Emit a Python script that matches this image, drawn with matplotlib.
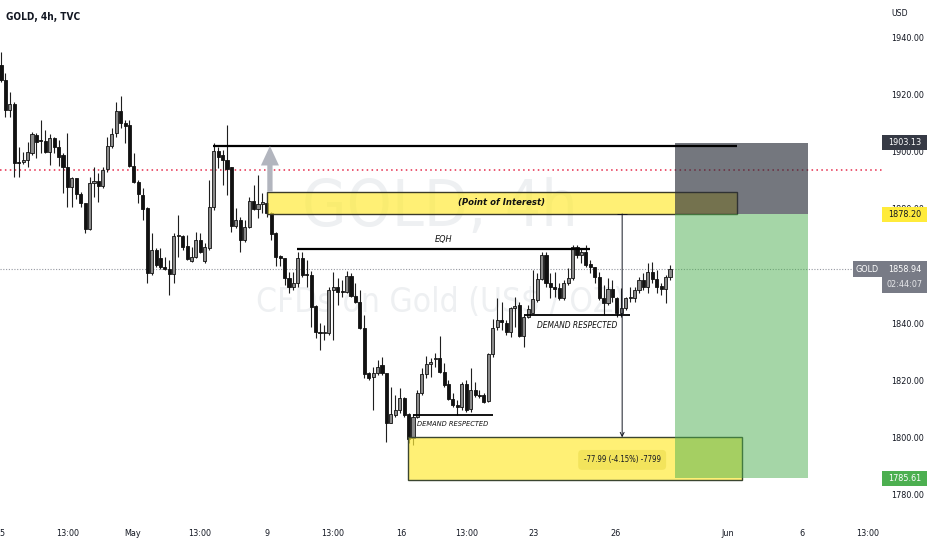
import matplotlib
matplotlib.use('Agg')
import matplotlib.pyplot as plt
from matplotlib.patches import Rectangle, FancyArrowPatch
from matplotlib.transforms import blended_transform_factory
import numpy as np

plt.rcParams['font.family'] = ['DejaVu Sans']
plt.rcParams['font.stretch'] = 'condensed'

# ---------------- data (GOLD, 4h) ----------------
opens = [1930.2, 1925.0, 1914.5, 1916.6, 1896.3, 1896.5, 1897.0, 1899.5, 1905.8, 1904.0,
         1903.6, 1899.8, 1904.7, 1901.5, 1898.7, 1894.6, 1887.6, 1890.7, 1885.1, 1882.0,
         1872.9, 1889.0, 1889.6, 1887.9, 1893.8, 1901.9, 1906.4, 1914.1, 1910.0, 1909.2,
         1894.9, 1889.3, 1884.7, 1880.2, 1857.4, 1865.5, 1862.7, 1859.5, 1858.8, 1857.1,
         1870.4, 1870.4, 1866.9, 1861.6, 1863.0, 1869.0, 1861.6, 1866.2, 1880.5, 1900.1,
         1899.0, 1897.0, 1894.5, 1873.9, 1876.0, 1869.0, 1873.5, 1882.6, 1879.8, 1881.6,
         1882.0, 1878.5, 1871.5, 1863.4, 1862.7, 1855.7, 1852.5, 1854.0, 1862.7, 1857.1,
         1856.8, 1845.9, 1836.8, 1836.5, 1836.5, 1851.5, 1852.5, 1851.1, 1850.8, 1856.4,
         1849.4, 1847.3, 1838.2, 1822.4, 1821.0, 1822.4, 1825.2, 1822.4, 1805.0, 1807.7,
         1809.5, 1813.7, 1808.1, 1799.7, 1807.0, 1815.4, 1822.1, 1825.6, 1827.4, 1827.7,
         1822.8, 1818.6, 1813.3, 1811.2, 1810.5, 1818.6, 1809.8, 1816.5, 1814.8, 1814.8,
         1812.6, 1829.1, 1838.5, 1841.0, 1839.9, 1836.8, 1845.2, 1846.2, 1835.4, 1842.0,
         1843.5, 1848.0, 1855.4, 1863.7, 1854.0, 1852.5, 1852.2, 1848.7, 1854.0, 1855.7,
         1866.5, 1863.7, 1864.8, 1860.6, 1859.5, 1856.0, 1848.7, 1846.9, 1851.8, 1848.7,
         1843.5, 1845.2, 1848.7, 1848.7, 1851.5, 1855.0, 1852.5, 1857.8, 1855.4, 1852.9,
         1851.8, 1856.0]
highs = [1935.0, 1927.5, 1920.8, 1917.3, 1901.5, 1899.8, 1903.3, 1906.8, 1906.5, 1911.0,
         1907.5, 1906.1, 1905.0, 1904.0, 1899.5, 1906.5, 1891.0, 1890.7, 1885.8, 1882.0,
         1891.0, 1894.6, 1892.5, 1894.6, 1905.0, 1908.2, 1917.3, 1919.4, 1911.0, 1911.0,
         1899.5, 1890.0, 1887.2, 1880.5, 1871.5, 1866.2, 1866.2, 1863.0, 1862.0, 1871.5,
         1877.8, 1870.7, 1870.7, 1866.5, 1871.8, 1871.5, 1868.0, 1890.0, 1903.0, 1901.5,
         1900.5, 1909.2, 1894.5, 1880.2, 1877.0, 1876.0, 1884.0, 1888.3, 1891.8, 1885.5,
         1883.0, 1879.0, 1872.0, 1864.0, 1862.7, 1857.8, 1857.8, 1864.8, 1864.8, 1862.0,
         1858.2, 1846.2, 1839.9, 1839.2, 1852.5, 1857.8, 1855.7, 1855.0, 1858.2, 1857.5,
         1854.0, 1851.5, 1842.8, 1822.8, 1824.5, 1827.0, 1828.0, 1822.4, 1817.5, 1814.8,
         1817.2, 1814.0, 1808.4, 1808.0, 1816.5, 1824.2, 1828.4, 1827.7, 1829.4, 1835.4,
         1825.9, 1820.0, 1815.4, 1813.0, 1819.3, 1820.0, 1824.2, 1819.3, 1816.5, 1815.4,
         1829.4, 1841.3, 1848.7, 1847.3, 1841.0, 1845.5, 1849.1, 1847.3, 1842.8, 1846.2,
         1858.5, 1857.5, 1864.8, 1864.8, 1857.5, 1857.8, 1854.0, 1855.0, 1859.2, 1867.2,
         1867.2, 1866.2, 1867.2, 1862.0, 1859.5, 1857.8, 1853.3, 1855.7, 1855.0, 1849.0,
         1852.2, 1849.0, 1852.5, 1852.5, 1856.0, 1857.5, 1861.0, 1861.3, 1858.5, 1854.0,
         1856.8, 1860.2]
lows = [1924.5, 1912.0, 1912.0, 1891.0, 1891.0, 1895.6, 1894.6, 1898.8, 1897.7, 1899.5,
        1899.5, 1895.2, 1899.5, 1894.9, 1885.5, 1880.5, 1880.5, 1883.4, 1880.5, 1871.5,
        1872.5, 1884.0, 1882.3, 1887.2, 1892.8, 1901.2, 1905.0, 1908.2, 1903.0, 1894.6,
        1889.0, 1882.0, 1876.0, 1854.0, 1856.8, 1859.5, 1858.8, 1858.5, 1849.8, 1854.0,
        1863.0, 1865.5, 1862.0, 1861.3, 1862.7, 1864.5, 1861.0, 1865.5, 1879.5, 1894.2,
        1888.3, 1884.7, 1871.8, 1873.2, 1864.8, 1868.3, 1873.2, 1879.5, 1876.7, 1878.5,
        1877.0, 1869.0, 1860.0, 1860.0, 1853.3, 1850.4, 1851.5, 1852.5, 1856.0, 1852.5,
        1838.5, 1834.7, 1830.5, 1834.0, 1835.7, 1834.0, 1846.2, 1849.0, 1850.4, 1849.0,
        1847.0, 1838.0, 1820.7, 1820.0, 1809.5, 1821.7, 1821.7, 1798.3, 1804.9, 1807.0,
        1808.4, 1807.0, 1798.0, 1797.3, 1806.7, 1814.8, 1820.7, 1821.0, 1824.5, 1822.4,
        1817.5, 1813.0, 1810.5, 1807.7, 1809.5, 1808.8, 1808.8, 1814.0, 1813.7, 1812.0,
        1812.3, 1828.0, 1837.5, 1837.5, 1835.7, 1835.0, 1838.5, 1835.0, 1831.5, 1841.7,
        1843.5, 1847.3, 1855.0, 1852.5, 1848.7, 1849.0, 1848.0, 1848.0, 1853.3, 1855.0,
        1862.7, 1861.0, 1859.5, 1857.5, 1854.0, 1848.0, 1842.8, 1846.2, 1847.3, 1842.0,
        1842.0, 1844.5, 1847.3, 1847.3, 1850.4, 1851.5, 1850.4, 1854.0, 1850.4, 1849.8,
        1847.0, 1855.0]
closes = [1925.0, 1914.5, 1916.6, 1896.0, 1896.0, 1897.0, 1899.8, 1906.1, 1903.3, 1903.6,
          1899.8, 1904.7, 1901.5, 1898.0, 1894.6, 1887.6, 1890.7, 1885.1, 1882.0, 1872.9,
          1889.0, 1889.6, 1887.9, 1893.5, 1901.9, 1906.1, 1914.1, 1910.0, 1908.9, 1894.9,
          1889.3, 1885.1, 1879.8, 1857.4, 1865.5, 1860.2, 1859.5, 1858.8, 1857.1, 1870.4,
          1870.7, 1866.5, 1862.3, 1863.0, 1869.0, 1864.8, 1866.5, 1880.5, 1900.1, 1898.0,
          1897.0, 1893.8, 1873.9, 1876.0, 1869.0, 1873.5, 1882.6, 1879.8, 1881.6, 1882.3,
          1878.5, 1871.1, 1863.0, 1862.7, 1855.7, 1852.5, 1854.0, 1862.7, 1856.8, 1856.8,
          1845.6, 1836.8, 1836.5, 1836.8, 1851.5, 1852.5, 1850.8, 1850.8, 1856.4, 1849.4,
          1847.3, 1838.2, 1822.1, 1820.7, 1822.4, 1824.5, 1822.4, 1805.0, 1808.1, 1809.5,
          1813.7, 1807.7, 1799.4, 1807.0, 1815.4, 1822.1, 1825.6, 1826.3, 1827.7, 1822.8,
          1818.2, 1813.3, 1811.2, 1810.5, 1818.6, 1809.5, 1816.5, 1814.8, 1814.6, 1812.3,
          1829.1, 1838.2, 1841.0, 1840.3, 1836.8, 1845.2, 1845.9, 1835.4, 1842.0, 1844.9,
          1848.3, 1855.4, 1863.7, 1854.0, 1852.5, 1851.8, 1848.7, 1854.0, 1855.7, 1866.5,
          1863.7, 1864.8, 1860.2, 1859.5, 1856.0, 1848.7, 1846.9, 1851.8, 1849.0, 1843.5,
          1845.2, 1848.7, 1849.0, 1851.5, 1855.0, 1852.5, 1857.8, 1855.4, 1852.5, 1851.8,
          1856.0, 1858.94]

x_tick_pos = [0.3, 15.1, 29.8, 44.9, 60.0, 74.9, 90.3, 105.2, 120.1, 138.6, 164.1, 180.8, 195.7]
x_tick_labels = ['5', '13:00', 'May', '13:00', '9', '13:00', '16', '13:00', '23', '26', 'Jun', '6', '13:00']
price_ticks = [1780, 1800, 1820, 1840, 1880, 1900, 1920, 1940]

last_price = 1858.94
countdown = '02:44:07'
stop_price = 1903.13
entry_price = 1878.20
target_price = 1785.61
red_level = 1893.6
top_line_price = 1902.0
poi_top = 1886.0
eqh_price = 1865.8
demand_hi_price = 1843.0
demand_lo_price = 1807.8
zone_top = 1800.0
zone_bottom = 1785.0
measure_text = '-77.99 (-4.15%) -7799'

# ---------------- figure ----------------
W, H = 932, 550
fig = plt.figure(figsize=(W / 100, H / 100), dpi=100)
fig.patch.set_facecolor('white')
pane_right = 884
pane_bottom = 516
ax = fig.add_axes([0, 1 - pane_bottom / H, pane_right / W, pane_bottom / H])
ax.set_facecolor('white')

ymin, ymax = 1772.46, 1953.13
ax.set_ylim(ymin, ymax)
ax.set_xlim(-0.226, 199.3)
ppu = pane_bottom / (ymax - ymin)   # pixels per price unit

for s in ax.spines.values():
    s.set_visible(False)

txt_col = '#131722'
ax.yaxis.tick_right()
ax.set_yticks(price_ticks)
ax.set_yticklabels([f'{p:.2f}' for p in price_ticks])
ax.tick_params(axis='y', length=0, pad=5, labelsize=6.5, labelcolor=txt_col)
ax.set_xticks(x_tick_pos)
ax.set_xticklabels(x_tick_labels)
ax.tick_params(axis='x', length=0, pad=9, labelsize=6.5, labelcolor=txt_col)

# watermark
ax.text(0.498, 0.597, 'GOLD, 4h', transform=ax.transAxes, ha='center', va='center',
        fontsize=46, color='#eef0f2', zorder=0.5)
ax.text(0.498, 0.413, 'CFDs on Gold (US$ / OZ)', transform=ax.transAxes, ha='center',
        va='center', fontsize=24, color='#eef0f2', zorder=0.5)

# horizontal dotted lines
ax.axhline(red_level, color='#e5294a', lw=1.1, ls=(0, (1, 2.2)), zorder=1)
ax.axhline(last_price, xmax=853 / pane_right, color='#9598a1', lw=0.8, ls=(0, (1, 1.5)), zorder=1)

# candles
o = np.array(opens); h = np.array(highs); l = np.array(lows); c = np.array(closes)
idx = np.arange(len(o))
up = c >= o
ax.vlines(idx, l, h, color='#1e1e1e', lw=0.8, zorder=2)
body_lo = np.minimum(o, c)
body_h = np.maximum(np.abs(c - o), 0.4)
ax.bar(idx[up], body_h[up], bottom=body_lo[up], width=0.7, color='#8a8a8a',
       edgecolor='#111111', linewidth=0.6, zorder=2.2)
ax.bar(idx[~up], body_h[~up], bottom=body_lo[~up], width=0.7, color='#111111',
       edgecolor='#111111', linewidth=0.6, zorder=2.2)

yellow = (1.0, 0.922, 0.231, 0.7)
# Point of interest box
ax.add_patch(Rectangle((60.0, entry_price), 106.1, poi_top - entry_price, facecolor=yellow,
                       edgecolor='#3b3b2a', lw=1.0, zorder=3))
ax.text(113.05, (poi_top + entry_price) / 2, '(Point of Interest)', ha='center', va='center',
        fontsize=6.8, fontweight='bold', fontstyle='italic', color='#111111', zorder=5)
# lower demand zone
ax.add_patch(Rectangle((91.9, zone_bottom), 75.4, zone_top - zone_bottom, facecolor=yellow,
                       edgecolor='#3b4630', lw=1.0, zorder=3))
# short position boxes
ax.add_patch(Rectangle((152.1, entry_price), 30.1, stop_price - entry_price,
                       facecolor=(0.165, 0.18, 0.224, 0.65), edgecolor='none', zorder=4))
ax.add_patch(Rectangle((152.1, target_price), 30.1, entry_price - target_price,
                       facecolor=(0.298, 0.686, 0.314, 0.5), edgecolor='none', zorder=4))

# lines
ax.hlines(top_line_price, 47.9, 166.1, color='black', lw=1.6, zorder=5)
ax.hlines(eqh_price, 66.8, 133.0, color='black', lw=1.6, zorder=5)
ax.text(99.9, eqh_price + 3.3, 'EQH', ha='center', va='center', fontsize=6.5,
        fontstyle='italic', color='#111111', zorder=5)
ax.hlines(demand_hi_price, 118.1, 142.0, color='black', lw=1.3, zorder=5)
ax.text(130.0, demand_hi_price - 3.7, 'DEMAND RESPECTED', ha='center', va='center',
        fontsize=6, fontstyle='italic', color='#111111', zorder=5)
ax.hlines(demand_lo_price, 93.0, 111.1, color='black', lw=1.3, zorder=5)
ax.text(101.9, demand_lo_price - 3.1, 'DEMAND RESPECTED', ha='center', va='center',
        fontsize=5.3, fontstyle='italic', color='#111111', zorder=5)

# gray up arrow
ax.add_patch(FancyArrowPatch((60.7, poi_top), (60.7, top_line_price),
                             arrowstyle='simple,head_length=1.4,head_width=1.3,tail_width=0.38',
                             mutation_scale=10, color='#b2b5be', lw=0, shrinkA=0, shrinkB=0,
                             zorder=6))

# measure arrow
ax.annotate('', xy=(140.2, zone_top), xytext=(140.2, entry_price),
            arrowprops=dict(arrowstyle='->', color='#131722', lw=0.7, shrinkA=0, shrinkB=0,
                            mutation_scale=7), zorder=6)
ax.hlines(entry_price, 139.1, 141.3, color='#131722', lw=0.7, zorder=6)
ax.text(140.2, 1792.1, measure_text, ha='center', va='center', fontsize=5.6, color='#131722',
        zorder=8, bbox=dict(boxstyle='round,pad=0.7,rounding_size=0.5', fc='#f3e45c', ec='none'))

# title
fig.text(6 / W, 1 - 17.5 / H, 'GOLD, 4h, TVC', ha='left', va='center', fontsize=7.2,
         fontweight='bold', color=txt_col)
fig.text(891 / W, 1 - 14 / H, 'USD', ha='left', va='center', fontsize=6.3, color=txt_col)

# price-axis tags
bt = blended_transform_factory(fig.transFigure, ax.transData)


def tag(price, text, fc, tc, x0=882, x1=927, hpx=15):
    fig.add_artist(Rectangle((x0 / W, price - hpx / 2 / ppu), (x1 - x0) / W, hpx / ppu,
                             transform=bt, facecolor=fc, edgecolor='none', zorder=10))
    fig.text((x0 + x1) / 2 / W, price, text, transform=bt, ha='center', va='center',
             fontsize=6.5, color=tc, zorder=11)


tag(stop_price, f'{stop_price:.2f}', '#363a45', 'white')
tag(entry_price, f'{entry_price:.2f}', '#ffeb3b', txt_col)
tag(target_price, f'{target_price:.2f}', '#4caf50', 'white')
# last price tag with countdown
fig.add_artist(Rectangle((882 / W, last_price - 24 / ppu), 45 / W, 32 / ppu, transform=bt,
                         facecolor='#787b86', edgecolor='none', zorder=10))
fig.text(904.5 / W, last_price, f'{last_price:.2f}', transform=bt, ha='center', va='center',
         fontsize=6.5, color='white', zorder=11)
fig.text(904.5 / W, last_price - 15 / ppu, countdown, transform=bt, ha='center', va='center',
         fontsize=6.5, color='#e6e7ea', zorder=11)
fig.add_artist(Rectangle((853 / W, last_price - 8 / ppu), 28.5 / W, 16 / ppu, transform=bt,
                         facecolor='#787b86', edgecolor='none', zorder=10))
fig.text(867 / W, last_price, 'GOLD', transform=bt, ha='center', va='center',
         fontsize=6.5, color='white', zorder=11)

fig.savefig('out.png', dpi=100, facecolor='white')
